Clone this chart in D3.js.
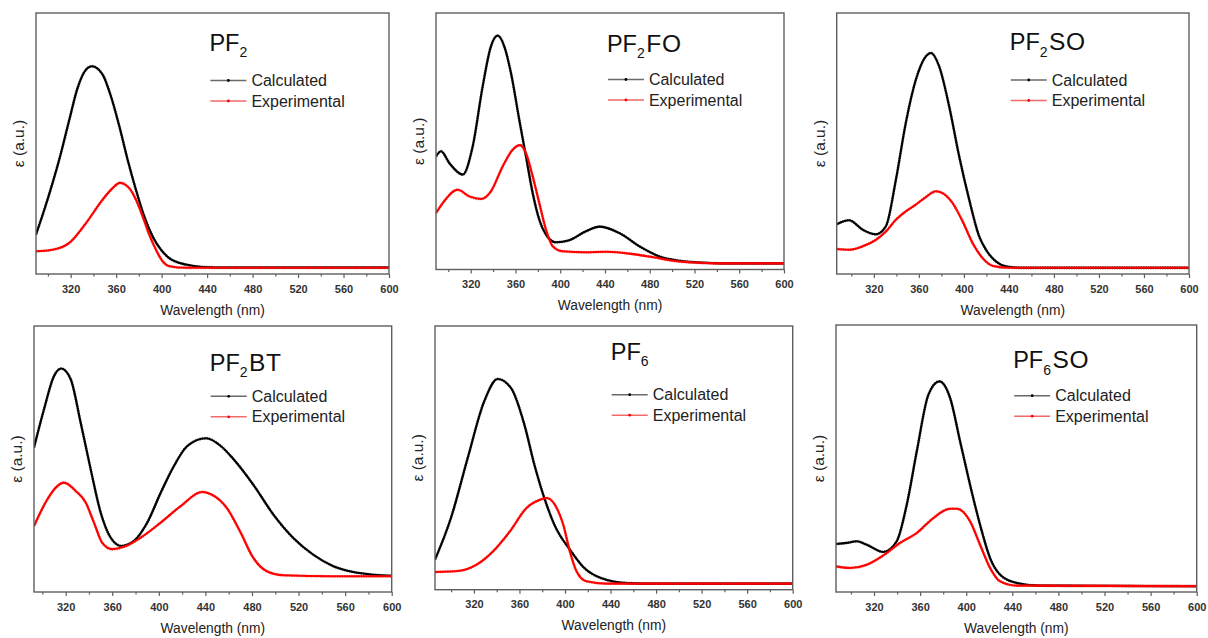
<!DOCTYPE html>
<html>
<head>
<meta charset="utf-8">
<script src="https://cdn.jsdelivr.net/npm/d3@7"></script>
<style>
  html, body { margin: 0; padding: 0; background: #fff; }
  svg { display: block; font-family: Arial, "Liberation Sans", sans-serif; }
</style>
</head>
<body>
<svg id="chart" width="1208" height="638"></svg>
<script>
// Panel titles: [main, subscript, suffix]
const panelTitles = [
  ["PF", "2", ""],
  ["PF", "2", "FO"],
  ["PF", "2", "SO"],
  ["PF", "2", "BT"],
  ["PF", "6", ""],
  ["PF", "6", "SO"]
];
const legendLabels = ["Calculated", "Experimental"];
const xLabel = "Wavelength (nm)";
const yLabel = "\u03b5 (a.u.)";
const xTicks = [320, 360, 400, 440, 480, 520, 560, 600];
const xMinorTicks = [300, 340, 380, 420, 460, 500, 540, 580];
const xStart = [289.5, 289, 287, 292.8, 285.8, 287];
const xEnd = 600;

// Absorption spectra, [wavelength nm, epsilon a.u.]
const pf2Calc = [[289.5,15.1],[296.8,24.6],[304.1,34.9],[311.5,46.4],[318.8,59.1],[326.1,71.3],[333.5,78.3],[338.7,79.6],[348.1,76.4],[355.4,68.1],[362.8,56.6],[370.1,43.8],[377.4,32.3],[384.7,22.1],[392.1,14.4],[399.4,9.3],[406.7,6.1],[421.4,3.6],[436,2.7],[460,2.5],[600,2.5]];
const pf2Exp = [[289.5,8.7],[304.1,9.3],[318.8,11.9],[333.5,19.5],[348.1,28.5],[356.9,32.9],[363.3,34.9],[371.5,32.9],[377.4,28.5],[383.3,22.1],[389.1,15.1],[395,9.3],[400.8,4.9],[406.7,3.0],[421.4,2.4],[600,2.4]];

const pf2foCalc = [[289,44.1],[293.5,46.1],[300.9,41.5],[312.9,37.0],[321.8,48.0],[330.7,71.4],[338.1,87.0],[344.1,91.2],[350,87.0],[356,76.6],[363.4,58.4],[369.4,44.1],[375.4,29.8],[381.3,19.4],[387.3,13.6],[396.2,10.6],[408.1,11.4],[423,14.9],[435.5,16.7],[453.4,14.1],[471.3,8.9],[489.2,5.0],[507,3.4],[524.9,2.7],[545,2.4],[600,2.4]];
const pf2foExp = [[289,22.0],[295,25.9],[308.4,31.1],[318.7,28.5],[329.2,27.5],[338.1,30.5],[348.6,40.2],[357.5,46.7],[364.1,48.5],[369.4,45.4],[375.4,36.3],[381.3,25.9],[387.3,15.5],[393.3,9.1],[402.2,7.1],[423,6.7],[441.5,6.9],[465.3,6.0],[483.2,4.8],[501,3.4],[518.9,2.7],[540,2.4],[600,2.4]];

const pf2soCalc = [[286.2,18.9],[298,20.6],[310,17.0],[321.8,15.2],[330.7,18.3],[339.6,36.1],[348.4,57.9],[357.3,74.4],[366.2,83.4],[370.7,84.7],[378,79.6],[386.9,64.3],[395.8,45.1],[404.7,28.5],[413.6,14.4],[419.6,9.3],[428,5.0],[438,2.9],[451.6,2.4],[600,2.4]];
const pf2soExp = [[286.2,9.6],[298,9.3],[310,10.6],[321.8,13.1],[330.7,16.3],[339.6,20.8],[348.4,24.0],[357.3,26.6],[366.2,29.5],[375.1,31.7],[381,31.0],[389.9,27.2],[398.8,20.2],[407.7,11.9],[416.6,6.1],[426,3.1],[440,2.4],[600,2.4]];

const pf2btCalc = [[292.8,54.3],[301.4,68.7],[310,81.2],[316.2,84.0],[324.3,80.0],[332.9,63.6],[341.5,46.1],[350.1,29.8],[358.7,20.4],[367.8,17.3],[378.7,19.2],[390.1,26.1],[401.6,37.3],[413,47.4],[424.5,54.9],[440.5,57.8],[453.2,54.9],[464,50.0],[481.2,40.3],[498.4,29.1],[515.5,20.3],[532.7,14.0],[549.9,9.7],[567.1,7.5],[584.3,6.5],[600,6.1]];
const pf2btExp = [[292.8,24.8],[304.2,34.8],[312.8,39.8],[318.5,41.1],[328.6,38.0],[337.2,33.6],[344.3,26.1],[351.4,18.5],[360,16.1],[370.1,17.0],[384.4,20.4],[401.6,26.1],[418.8,32.3],[437,37.6],[447.4,36.1],[458.5,31.5],[469.7,22.8],[481.2,12.8],[492.7,7.8],[507,6.3],[549.9,5.9],[600,5.9]];

const pf6Calc = [[285.8,11.4],[299.8,27.2],[314.5,49.9],[329,71.4],[340.8,79.9],[352.5,76.5],[364.3,62.6],[373.1,47.4],[381.8,34.8],[390.6,24.7],[405.3,14.6],[417,8.2],[431.6,4.4],[455,2.5],[480,2.3],[600,2.3]];
const pf6Exp = [[285.8,6.7],[307.7,7.2],[322.3,9.5],[336.9,14.6],[351.6,22.1],[366.2,31.0],[377.9,34.1],[383.8,34.8],[391.1,32.2],[398.4,24.7],[404.2,14.6],[410.1,7.0],[418.8,3.2],[436.4,2.3],[600,2.3]];

const pf6soCalc = [[287,18.0],[296.3,18.4],[305,19.0],[313.7,17.7],[328.1,15.0],[339.7,19.0],[348.4,32.7],[357.1,52.7],[367.2,73.9],[376.7,78.9],[386,72.7],[394.7,56.4],[403.3,40.2],[412,25.2],[420.7,12.7],[429.4,6.5],[443.9,3.4],[464.1,2.4],[600,2.2]];
const pf6soExp = [[287,9.6],[299.2,9.0],[313.7,10.2],[328.1,13.7],[342.6,18.4],[357.1,22.1],[371.5,27.7],[386,31.2],[391.8,31.2],[403.3,26.5],[412,17.7],[420.7,9.0],[429.4,4.0],[443.9,2.4],[600,2.2]];

const calcSeries = [pf2Calc, pf2foCalc, pf2soCalc, pf2btCalc, pf6Calc, pf6soCalc];
const expSeries = [pf2Exp, pf2foExp, pf2soExp, pf2btExp, pf6Exp, pf6soExp];

// Plot frames in page pixels and text offsets inside each frame
const frames = [
  { left: 36,    top: 13,  right: 389,    bottom: 274,   titleDy: 37.5, legendDy: 67.5 },
  { left: 436,   top: 13,  right: 784,    bottom: 269.5, titleDy: 38.5, legendDy: 66.5 },
  { left: 836.7, top: 13,  right: 1189,   bottom: 274,   titleDy: 37,   legendDy: 67 },
  { left: 34,    top: 326, right: 391.7,  bottom: 592,   titleDy: 44.5, legendDy: 70.3 },
  { left: 435,   top: 326, right: 792.7,  bottom: 589.7, titleDy: 33.7, legendDy: 68.7 },
  { left: 836,   top: 325, right: 1196.7, bottom: 592,   titleDy: 43,   legendDy: 70.7 }
];

const colors = { calc: "#000000", exp: "#ff0000", calcKey: "#6a6a6a", expKey: "#f26a6a", frame: "#5e5e5e", text: "#222222" };

const svg = d3.select("#chart");

frames.forEach((f, i) => {
  const w = f.right - f.left, h = f.bottom - f.top;
  const g = svg.append("g").attr("transform", `translate(${f.left},${f.top})`);

  const x = d3.scaleLinear().domain([xStart[i], xEnd]).range([0, w]);
  const y = d3.scaleLinear().domain([0, 100]).range([h, 0]);

  const clipId = "clip" + i;
  g.append("clipPath").attr("id", clipId)
    .append("rect").attr("x", 0).attr("y", 0).attr("width", w).attr("height", h);

  const line = d3.line()
    .x(d => x(d[0]))
    .y(d => y(d[1]))
    .curve(d3.curveMonotoneX);

  const curves = g.append("g").attr("clip-path", `url(#${clipId})`);
  [[calcSeries[i], colors.calc], [expSeries[i], colors.exp]].forEach(([data, c]) => {
    curves.append("path")
      .attr("d", line(data))
      .attr("fill", "none")
      .attr("stroke", c)
      .attr("stroke-width", 2.1)
      .attr("stroke-linejoin", "round");
    curves.append("path")
      .attr("d", line(data))
      .attr("fill", "none")
      .attr("stroke", c)
      .attr("stroke-width", 2.8)
      .attr("stroke-dasharray", "1.3 1.1")
      .attr("opacity", 0.55);
  });

  // bottom axis: labelled major ticks and unlabelled minor ticks
  const major = d3.axisBottom(x).tickValues(xTicks).tickSize(4).tickPadding(7).tickFormat(d3.format("d"));
  const minor = d3.axisBottom(x).tickValues(xMinorTicks).tickSize(2.5).tickFormat("");
  const gMajor = g.append("g").attr("transform", `translate(0,${h})`).call(major);
  const gMinor = g.append("g").attr("transform", `translate(0,${h})`).call(minor);
  [gMajor, gMinor].forEach(ax => {
    ax.select(".domain").remove();
    ax.selectAll(".tick line").attr("stroke", colors.frame).attr("stroke-width", 1.2);
  });
  gMajor.selectAll(".tick text")
    .attr("font-size", 11).attr("font-weight", "bold").attr("fill", "#333")
    .attr("font-family", "Arial, 'Liberation Sans', sans-serif");

  g.append("rect")
    .attr("x", 0).attr("y", 0).attr("width", w).attr("height", h)
    .attr("fill", "none").attr("stroke", colors.frame).attr("stroke-width", 1.4);

  // axis titles
  g.append("text")
    .attr("x", w / 2).attr("y", h + 40.5)
    .attr("text-anchor", "middle").attr("font-size", 13.8).attr("fill", colors.text)
    .text(xLabel);
  g.append("text")
    .attr("transform", `translate(-12,${h / 2}) rotate(-90)`)
    .attr("text-anchor", "middle").attr("font-size", 15.5).attr("fill", colors.text)
    .text(yLabel);

  // panel title with subscript
  const lx = w * 0.494;
  const t = g.append("text").attr("x", lx - 1).attr("y", f.titleDy)
    .attr("font-size", 23.5).attr("fill", "#111");
  t.append("tspan").text(panelTitles[i][0]);
  t.append("tspan").attr("font-size", 14).attr("dy", 6.5).text(panelTitles[i][1]);
  if (panelTitles[i][2]) {
    t.append("tspan").attr("dy", -6.5).attr("dx", 1.5).attr("font-size", 24.5)
      .attr("letter-spacing", 0.7).text(panelTitles[i][2]);
  }

  // legend
  [[colors.calcKey, colors.calc], [colors.expKey, colors.exp]].forEach(([lc, dc], k) => {
    const ly = f.legendDy + k * 20.5;
    g.append("line").attr("x1", lx).attr("x2", lx + 36).attr("y1", ly).attr("y2", ly)
      .attr("stroke", lc).attr("stroke-width", 1.4);
    g.append("circle").attr("cx", lx + 18).attr("cy", ly).attr("r", 1.4).attr("fill", dc);
    g.append("text").attr("x", lx + 41).attr("y", ly + 5.6)
      .attr("font-size", 16).attr("fill", colors.text).text(legendLabels[k]);
  });
});
</script>
</body>
</html>
